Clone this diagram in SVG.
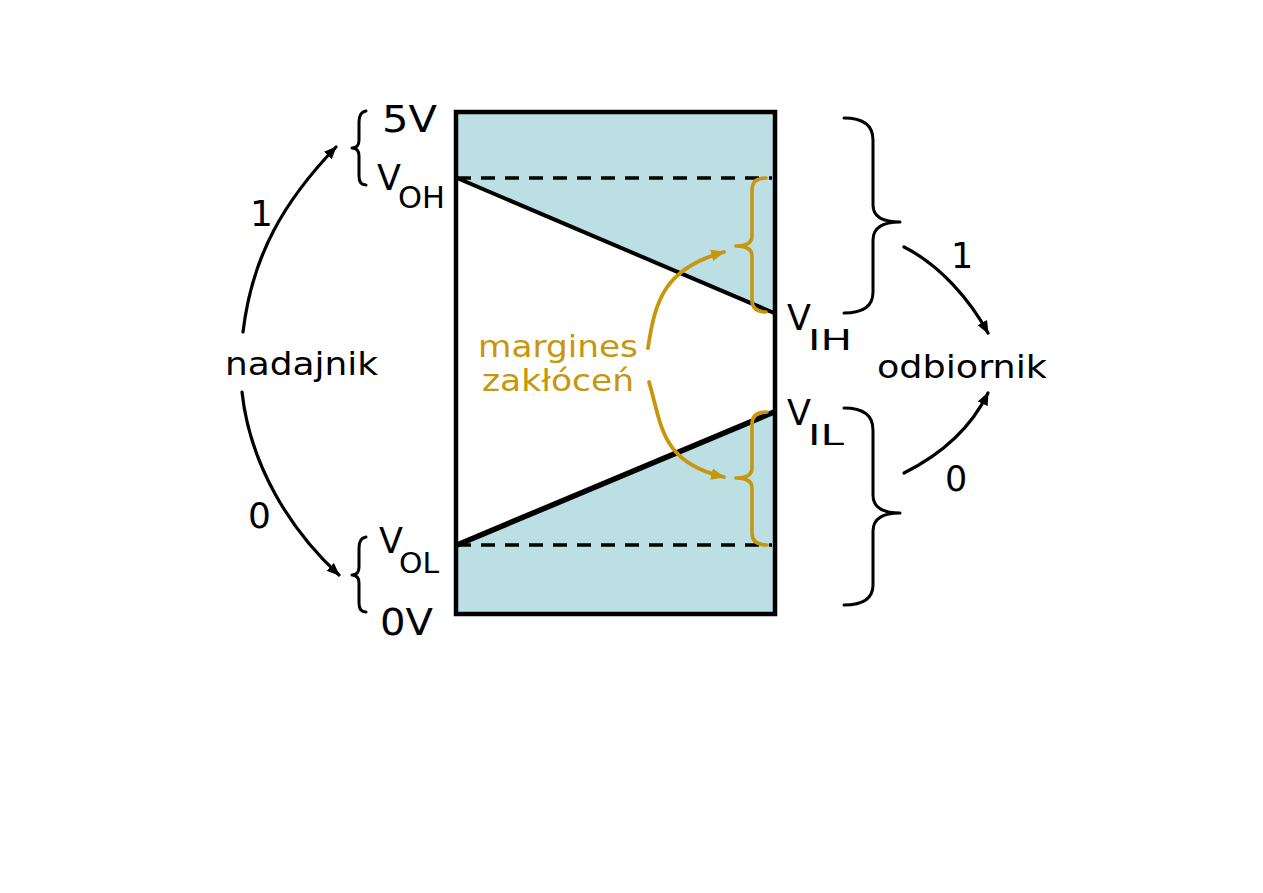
<svg xmlns="http://www.w3.org/2000/svg" width="1263" height="893" viewBox="0 0 1263 893">
<style>
.t{font-family:"DejaVu Sans","Liberation Sans",sans-serif;fill:#000}
.g{font-family:"DejaVu Sans","Liberation Sans",sans-serif;fill:#C8960C}
.br{fill:none;stroke:#000;stroke-width:3;stroke-linecap:round;stroke-linejoin:round}
.gb{fill:none;stroke:#C8960C;stroke-width:3.5;stroke-linecap:round;stroke-linejoin:round}
.ar{fill:none;stroke:#000;stroke-width:3.2;stroke-linecap:round}
.ga{fill:none;stroke:#C8960C;stroke-width:3.8;stroke-linecap:round}
.dash{stroke:#000;stroke-width:3.5;stroke-dasharray:14 10}
</style>
<defs>
<marker id="ah" viewBox="0 0 12 10" refX="11" refY="5" markerWidth="13" markerHeight="11" markerUnits="userSpaceOnUse" orient="auto">
<path d="M0,0 L12,5 L0,10 Z" fill="#000"/>
</marker>
<marker id="gah" viewBox="0 0 12 10" refX="11" refY="5" markerWidth="14" markerHeight="12" markerUnits="userSpaceOnUse" orient="auto">
<path d="M0,0 L12,5 L0,10 Z" fill="#C8960C"/>
</marker>
</defs>
<rect width="1263" height="893" fill="#fff"/>

<g id="chart">
<rect x="457" y="113" width="317" height="500" fill="#fff"/>
<rect x="457" y="113" width="317" height="65" fill="#BBDFE3"/>
<polygon points="457,178 774,178 774,313" fill="#BBDFE3"/>
<polygon points="457,545 774,412 774,545" fill="#BBDFE3"/>
<rect x="457" y="545" width="317" height="68" fill="#BBDFE3"/>
<line x1="457" y1="178" x2="772" y2="178" class="dash"/>
<line x1="457" y1="545" x2="772" y2="545" class="dash"/>
<line x1="457" y1="178" x2="774" y2="313" stroke="#000" stroke-width="4"/>
<line x1="457" y1="545" x2="774" y2="412" stroke="#000" stroke-width="5.5"/>
<rect x="456" y="112" width="319" height="502" fill="none" stroke="#000" stroke-width="4.5"/>
</g>

<g id="margins">
<path class="gb" d="M766,178 Q752,178 752,190 L752,236 Q752,246 736,246 Q752,246 752,256 L752,300 Q752,312 766,312"/>
<path class="gb" d="M767,412 Q752,412 752,424 L752,468 Q752,478 736,478 Q752,478 752,488 L752,533 Q752,545 767,545"/>
<text class="g" x="478" y="357" font-size="30" textLength="160" lengthAdjust="spacingAndGlyphs">margines</text>
<text class="g" x="482" y="391" font-size="30" textLength="152" lengthAdjust="spacingAndGlyphs">zakłóceń</text>
</g>

<g id="transmitter">
<text class="t" x="225" y="375" font-size="32" textLength="153" lengthAdjust="spacingAndGlyphs">nadajnik</text>
<path class="br" d="M366,111 Q359,112 359,122 L359,140 Q359,148 352,148 Q359,148 359,156 L359,176 Q359,185 366,185"/>
<path class="br" d="M366,537 Q359,538 359,548 L359,567 Q359,575 352,575 Q359,575 359,583 L359,603 Q359,612 366,612"/>
<text class="t" x="382" y="132" font-size="37" textLength="55" lengthAdjust="spacingAndGlyphs">5V</text>
<text class="t" x="377" y="190" font-size="35">V</text>
<text class="t" x="398" y="208" font-size="30" textLength="47" lengthAdjust="spacingAndGlyphs">OH</text>
<text class="t" x="379" y="553" font-size="35">V</text>
<text class="t" x="399" y="573" font-size="28" textLength="40" lengthAdjust="spacingAndGlyphs">OL</text>
<text class="t" x="380" y="635" font-size="37" textLength="53" lengthAdjust="spacingAndGlyphs">0V</text>
</g>

<g id="receiver">
<text class="t" x="877" y="378" font-size="32" textLength="170" lengthAdjust="spacingAndGlyphs">odbiornik</text>
<path class="br" d="M844,118 Q873,118 873,140 L873,205 Q873,222 900,222 Q873,222 873,240 L873,292 Q873,313 844,313"/>
<path class="br" d="M844,408 Q873,408 873,430 L873,495 Q873,513 900,513 Q873,513 873,531 L873,585 Q873,605 844,605"/>
<text class="t" x="787" y="330" font-size="35">V</text>
<text class="t" x="808" y="350" font-size="29" textLength="44" lengthAdjust="spacingAndGlyphs">IH</text>
<text class="t" x="787" y="425" font-size="35">V</text>
<text class="t" x="808" y="445" font-size="29" textLength="36" lengthAdjust="spacingAndGlyphs">IL</text>
</g>

<g id="connectors">
<path class="ar" d="M243,332 C252,255 285,200 336,147" marker-end="url(#ah)"/>
<path class="ar" d="M242,392 C250,465 290,530 339,575" marker-end="url(#ah)"/>
<path class="ar" d="M904,247 C940,265 970,300 988,333" marker-end="url(#ah)"/>
<path class="ar" d="M904,473 C940,455 970,430 988,393" marker-end="url(#ah)"/>
<path class="ga" d="M648,348 C655,300 665,268 724,252" marker-end="url(#gah)"/>
<path class="ga" d="M649,382 C662,425 660,462 724,477" marker-end="url(#gah)"/>
<text class="t" x="250" y="226" font-size="36">1</text>
<text class="t" x="248" y="528" font-size="36">0</text>
<text class="t" x="951" y="268" font-size="35">1</text>
<text class="t" x="945" y="491" font-size="35">0</text>
</g>
</svg>
